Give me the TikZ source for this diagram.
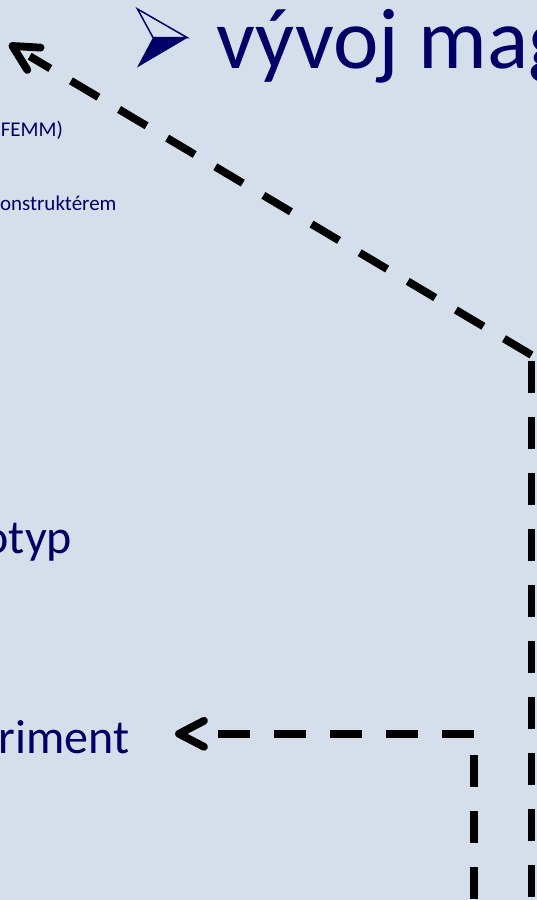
\documentclass[tikz,border=0pt]{standalone}
\usepackage{fontspec}
\setmainfont{Carlito}
\usetikzlibrary{arrows.meta}
\definecolor{slidebg}{RGB}{213,223,235}
\definecolor{navy}{RGB}{0,0,102}
\pgfdeclarearrow{
  name = OpenVee,
  parameters = {\the\pgfarrowlength,\the\pgfarrowwidth},
  setup code = {
    \pgfarrowssettipend{0pt}
    \pgfarrowssetlineend{-20pt}
    \pgfarrowssetbackend{-\pgfarrowlength}
    \pgfarrowssavethe\pgfarrowlength
    \pgfarrowssavethe\pgfarrowwidth
  },
  drawing code = {
    \pgfsetdash{}{+0pt}
    \pgfsetroundcap
    \pgfsetroundjoin
    \pgfpathmoveto{\pgfpoint{-\pgfarrowlength}{.5\pgfarrowwidth}}
    \pgfpathlineto{\pgfpointorigin}
    \pgfpathlineto{\pgfpoint{-\pgfarrowlength}{-.5\pgfarrowwidth}}
    \pgfusepathqstroke
  },
  defaults = {length=25pt, width=26pt}
}
\tikzset{
  dline/.style={line width=7.8pt, draw=black, dash pattern=on 32pt off 24pt},
  lbl/.style={inner sep=0pt, outer sep=0pt, text=navy, anchor=base east},
  small/.style={lbl, font=\fontsize{21}{25}\selectfont},
  medium/.style={lbl, font=\fontsize{48}{56}\selectfont},
  titletext/.style={inner sep=0pt, outer sep=0pt, text=navy, anchor=base west, font=\fontsize{86}{100}\selectfont},
}
\begin{document}
\begin{tikzpicture}[x=1pt, y=-1pt]
\useasboundingbox (0,0) rectangle (537,900);
\fill[slidebg] (0,0) rectangle (537,900);
\clip (0,0) rectangle (537,900);
% title bullet
\fill[navy] (153,37.5) -- (188,37.5) -- (137,67.5) -- cycle;
\draw[navy, line width=1.5pt, line join=miter] (137.5,9) -- (187,37.5) -- (153,37.5) -- cycle;
% texts
\node[titletext] (title) at (216.4,68) {vývoj mag};
\node[small] (femm) at (63,136) {FEMM)};
\node[small] (konstr) at (116.5,210) {onstruktérem};
\node[medium] (proto) at (72,553) {otyp};
\node[medium] (exper) at (129.5,753) {riment};
% connectors
\coordinate (A0) at (531.5,355);
\coordinate (A1) at (531.5,361);
\coordinate (A2) at (531.5,930);
\coordinate (Atip) at (12.5,46);
\coordinate (B0) at (473.8,733.8);
\coordinate (B1) at (473.8,755);
\coordinate (B2) at (473.8,930);
\coordinate (Btip) at (179,733.8);
\draw[dline, -{OpenVee}] (A0) -- (Atip);
\draw[dline] (A1) -- (A2);
\draw[dline] (B1) -- (B2);
\draw[dline, -{OpenVee}] (B0) -- (Btip);
\end{tikzpicture}
\end{document}
